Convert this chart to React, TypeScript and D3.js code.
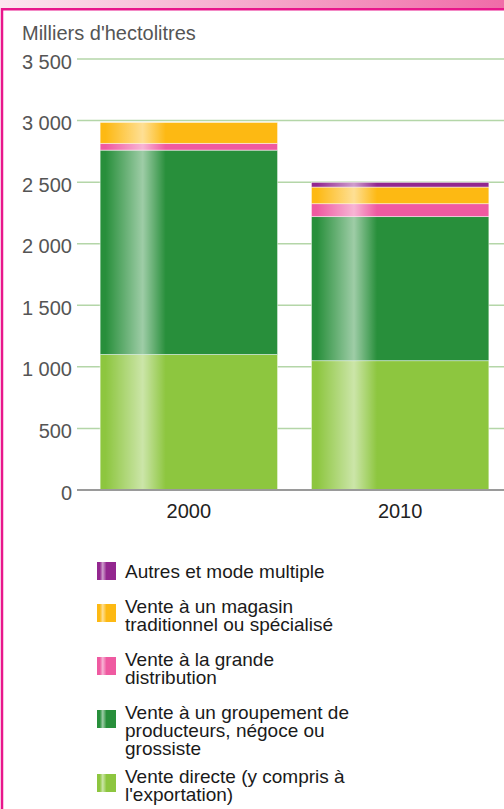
import React, { useEffect, useRef } from 'react'
import * as d3 from 'd3'

// values in thousands of hectolitres
const years = ['2000', '2010']
const venteDirecte = [1100, 1050]
const groupement = [1660, 1170]
const grandeDistribution = [55, 105]
const magasin = [170, 135]
const autres = [0, 38]

const yTicks = [0, 500, 1000, 1500, 2000, 2500, 3000, 3500]

const seriesKeys = ['directe', 'groupement', 'grande', 'magasin', 'autres']
const seriesColors = ['#8dc63f', '#288f3b', '#ef5aa1', '#fdb913', '#93278f']
const seriesLabels = [
  ["Vente directe (y compris à", "l'exportation)"],
  ['Vente à un groupement de', 'producteurs, négoce ou', 'grossiste'],
  ['Vente à la grande', 'distribution'],
  ['Vente à un magasin', 'traditionnel ou spécialisé'],
  ['Autres et mode multiple'],
]

const W = 504
const H = 809
const FONT = '"Liberation Sans", Arial, sans-serif'

function App() {
  const ref = useRef<SVGSVGElement>(null)

  useEffect(() => {
    const svg = d3.select(ref.current)
    svg.selectAll('*').remove()

    const table = years.map((y, i) => ({
      year: y,
      directe: venteDirecte[i],
      groupement: groupement[i],
      grande: grandeDistribution[i],
      magasin: magasin[i],
      autres: autres[i],
    }))

    const x = d3.scaleBand().domain(years).range([79, 510]).paddingInner(0.16).paddingOuter(0.1)
    const y = d3.scaleLinear().domain([0, 3500]).range([490, 59])

    const defs = svg.append('defs')
    // header band
    const hg = defs.append('linearGradient').attr('id', 'head').attr('x1', 0).attr('x2', 1).attr('y1', 0).attr('y2', 0)
    hg.append('stop').attr('offset', 0).attr('stop-color', '#fce6ef')
    hg.append('stop').attr('offset', 1).attr('stop-color', '#f06ca8')

    // glossy stripe on bars
    const shine = defs.append('linearGradient').attr('id', 'shine').attr('x1', 0).attr('x2', 1).attr('y1', 0).attr('y2', 0)
    ;[[0, 0], [0.03, 0], [0.24, 0.55], [0.37, 0], [1, 0]].forEach(s =>
      shine.append('stop').attr('offset', s[0]).attr('stop-color', '#fff').attr('stop-opacity', s[1]))
    const shine2 = defs.append('linearGradient').attr('id', 'shine2').attr('x1', 0).attr('x2', 1).attr('y1', 0).attr('y2', 0)
    ;[[0, 0], [0.15, 0], [0.3, 0.55], [0.5, 0], [1, 0]].forEach(s =>
      shine2.append('stop').attr('offset', s[0]).attr('stop-color', '#fff').attr('stop-opacity', s[1]))

    svg.append('rect').attr('width', W).attr('height', H).attr('fill', '#fff')
    svg.append('rect').attr('x', 0).attr('y', 0).attr('width', W).attr('height', 8).attr('fill', 'url(#head)')
    // frame
    svg.append('rect').attr('x', 2).attr('y', 9.25).attr('width', W + 20).attr('height', H + 20)
      .attr('fill', 'none').attr('stroke', '#e8168b').attr('stroke-width', 2.5)

    // title
    svg.append('text').attr('x', 22).attr('y', 40).text("Milliers d'hectolitres")
      .attr('font-family', FONT).attr('font-size', 20).attr('fill', '#555')

    // gridlines
    svg.append('g').selectAll('line').data(yTicks.filter(d => d > 0)).enter().append('line')
      .attr('x1', 77).attr('x2', W).attr('y1', d => y(d)).attr('y2', d => y(d))
      .attr('stroke', '#b4d6a8').attr('stroke-width', 1.5)

    svg.append('g').selectAll('text').data(yTicks).enter().append('text')
      .attr('x', 72).attr('y', d => y(d) + 9.5).attr('text-anchor', 'end')
      .attr('font-family', FONT).attr('font-size', 20).attr('fill', '#555')
      .text(d => d3.format(',')(d).replace(',', ' '))

    // bars
    const stack = d3.stack<any>().keys(seriesKeys)(table)
    const layers = svg.append('g').selectAll('g').data(stack).enter().append('g')
    layers.selectAll('rect.seg').data(d => d.map(v => ({ v, key: d.key, i: d.index })))
      .enter().append('rect').attr('class', 'seg')
      .attr('x', d => x(d.v.data.year) as number)
      .attr('width', x.bandwidth())
      .attr('y', d => y(d.v[1]))
      .attr('height', d => Math.max(0, y(d.v[0]) - y(d.v[1])))
      .attr('fill', d => seriesColors[d.i])
      .attr('stroke', '#fff').attr('stroke-width', 0.8).attr('stroke-opacity', 0.6)
    layers.selectAll('rect.shine').data(d => d.map(v => v)).enter().append('rect').attr('class', 'shine')
      .attr('x', d => x(d.data.year) as number)
      .attr('width', x.bandwidth())
      .attr('y', d => y(d[1]))
      .attr('height', d => Math.max(0, y(d[0]) - y(d[1])))
      .attr('fill', 'url(#shine)')

    // baseline
    svg.append('line').attr('x1', 77).attr('x2', W).attr('y1', y(0)).attr('y2', y(0))
      .attr('stroke', '#9a9a9a').attr('stroke-width', 2)

    svg.append('g').selectAll('text').data(years).enter().append('text')
      .attr('x', d => (x(d) as number) + x.bandwidth() / 2)
      .attr('y', 518).attr('text-anchor', 'middle')
      .attr('font-family', FONT).attr('font-size', 20).attr('fill', '#222')
      .text(d => d)

    // legend, top item is the last series
    const order = d3.range(seriesKeys.length).reverse()
    let top = 562
    const items = order.map(i => {
      const it = { i, top }
      top += 31 + 11 * seriesLabels[i].length
      return it
    })
    const lg = svg.append('g').selectAll('g').data(items).enter().append('g')
    lg.append('rect').attr('x', 97).attr('y', d => d.top).attr('width', 19).attr('height', 18)
      .attr('fill', d => seriesColors[d.i])
    lg.append('rect').attr('x', 97).attr('y', d => d.top).attr('width', 19).attr('height', 18)
      .attr('fill', 'url(#shine2)')
    lg.append('text')
      .attr('font-family', FONT).attr('font-size', 19).attr('fill', '#1a1a1a')
      .each(function (d) {
        const lines = seriesLabels[d.i]
        const base = lines.length === 1 ? d.top + 16 : d.top + 9
        lines.forEach((l, k) => {
          d3.select(this).append('tspan').attr('x', 125).attr('y', base + k * 18).text(l)
        })
      })
  }, [])

  return (
    <svg ref={ref} width={W} height={H}
      style={{ position: 'absolute', left: 0, top: 0, display: 'block' }}></svg>
  )
}

export default App
